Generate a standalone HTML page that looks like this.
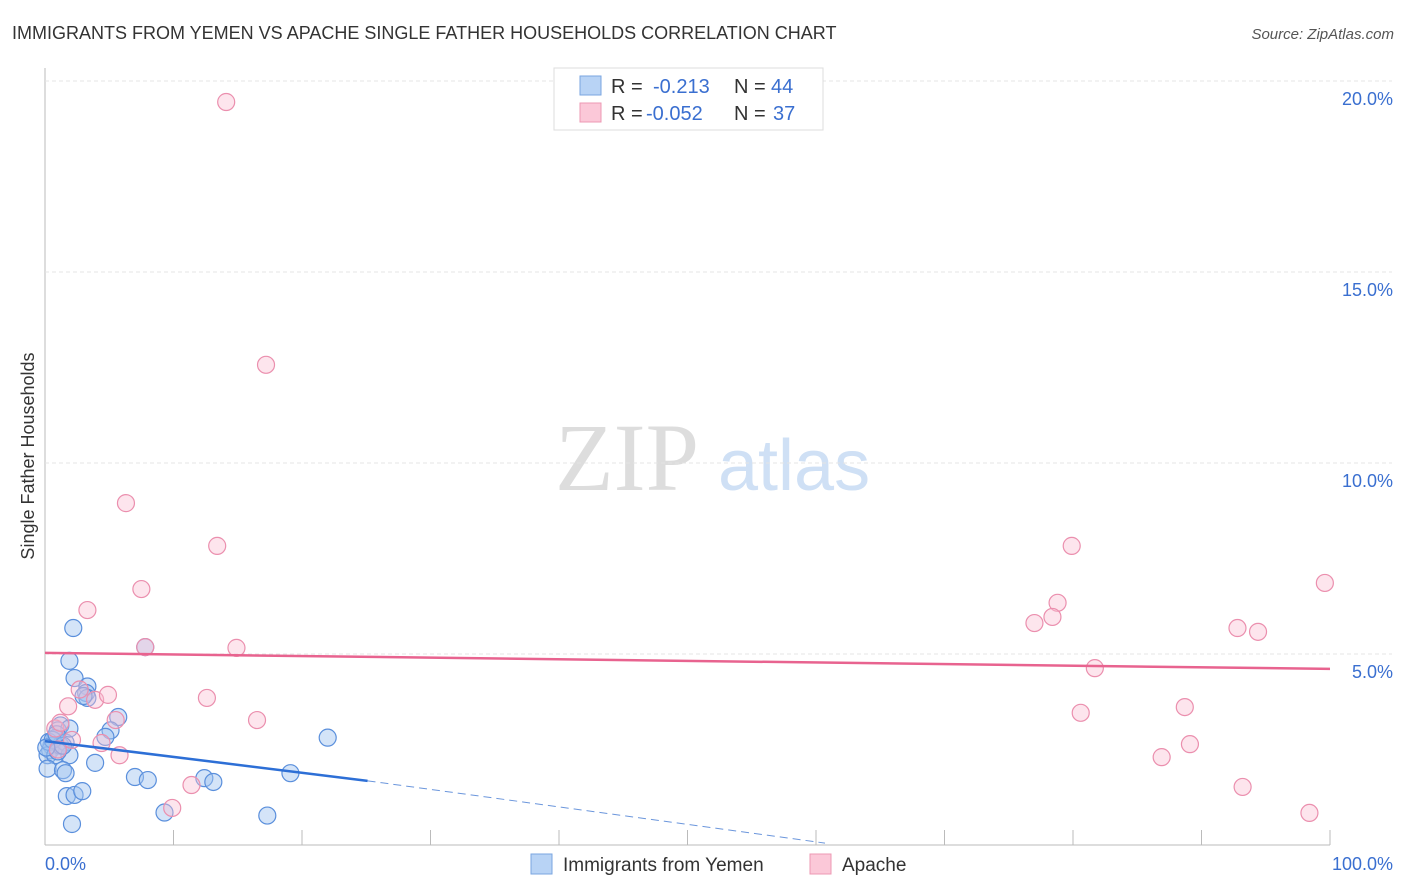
<!DOCTYPE html>
<html><head><meta charset="utf-8"><style>
body{margin:0;background:#fff;font-family:"Liberation Sans",sans-serif}
svg{display:block}
</style></head><body>
<svg id="chart" width="1406" height="892">
<text x="12" y="39" font-size="18" fill="#333">IMMIGRANTS FROM YEMEN VS APACHE SINGLE FATHER HOUSEHOLDS CORRELATION CHART</text>
<text x="1394" y="39" font-size="15" fill="#555" font-style="italic" text-anchor="end">Source: ZipAtlas.com</text>
<text x="555" y="490" font-size="96" fill="#ddd" font-family="Liberation Serif,serif">ZIP</text>
<text x="718" y="490" font-size="72" fill="#cfe0f5">atlas</text>
<text transform="translate(34,456) rotate(-90)" font-size="18" fill="#333" text-anchor="middle">Single Father Households</text>
<g id="grid"></g><g id="marks"></g>
<g>
<rect x="554" y="68" width="269" height="62" fill="#fff" stroke="#ddd"/>
<rect x="580" y="76" width="21" height="19" fill="#b8d3f5" stroke="#7aa6e0"/>
<rect x="580" y="103" width="21" height="19" fill="#fbc8d8" stroke="#ec98b3"/>
<text x="611" y="93" font-size="20" fill="#333">R = </text><text x="653" y="93" font-size="20" fill="#3a6fd0">-0.213</text>
<text x="734" y="93" font-size="20" fill="#333">N = </text><text x="771" y="93" font-size="20" fill="#3a6fd0">44</text>
<text x="611" y="120" font-size="20" fill="#333">R = </text><text x="646" y="120" font-size="20" fill="#3a6fd0">-0.052</text>
<text x="734" y="120" font-size="20" fill="#333">N = </text><text x="773" y="120" font-size="20" fill="#3a6fd0">37</text>
</g>
<g>
<rect x="531" y="854" width="21" height="20" fill="#b8d3f5" stroke="#7aa6e0"/>
<text x="563" y="871" font-size="19" fill="#333">Immigrants from Yemen</text>
<rect x="810" y="854" width="21" height="20" fill="#fbc8d8" stroke="#ec98b3"/>
<text x="842" y="871" font-size="19" fill="#333">Apache</text>
</g>
</svg>
<script>
const yTicks=[5,10,15,20];
const yTickLabels=["5.0%","10.0%","15.0%","20.0%"];
const xTicks=[0,10,20,30,40,50,60,70,80,90,100];
const blueX=[2.2,1.9,2.3,3.3,3.2,3.3,3.0,5.7,5.1,4.7,7.8,1.2,1.0,0.8,0.5,0.4,0.2,0.8,1.2,1.6,1.9,1.9,0.2,1.4,1.6,3.9,1.7,2.3,2.9,2.1,7.0,8.0,9.3,12.4,13.1,17.3,19.1,22.0,0.3,0.6,1.0,1.4,0.9,0.1];
const blueY=[5.68,4.82,4.37,4.15,3.98,3.85,3.9,3.35,3.0,2.83,5.18,3.13,3.0,2.8,2.6,2.48,2.35,2.35,2.6,2.68,3.05,2.35,2.0,1.96,1.88,2.15,1.28,1.31,1.41,0.55,1.78,1.7,0.85,1.75,1.65,0.77,1.88,2.81,2.7,2.75,2.45,2.6,2.9,2.55];
const pinkX=[14.1,17.2,6.3,13.4,7.5,3.3,7.8,14.9,2.7,3.9,4.9,12.6,1.8,5.5,16.5,0.8,1.2,2.1,4.4,5.8,11.4,9.9,79.9,78.8,77.0,78.4,99.6,92.8,94.4,81.7,80.6,88.7,89.1,86.9,93.2,98.4,1.0];
const pinkY=[19.45,12.57,8.95,7.83,6.7,6.15,5.18,5.16,4.07,3.8,3.93,3.85,3.63,3.27,3.27,3.05,3.2,2.75,2.67,2.35,1.57,0.97,7.83,6.34,5.81,5.97,6.86,5.68,5.58,4.63,3.46,3.61,2.64,2.30,1.52,0.84,2.5];
const blueTrend=[[0,2.72],[25.1,1.68]];
const blueDash=[[25.1,1.68],[60.7,0.05]];
const pinkTrend=[[0,5.03],[100,4.61]];
const X=v=>45+v*12.85, Y=v=>845-v*38.2;
const NS="http://www.w3.org/2000/svg";
const grid=document.getElementById('grid'),marks=document.getElementById('marks');
function mk(p,tag,a){const e=document.createElementNS(NS,tag);for(const k in a)e.setAttribute(k,a[k]);p.appendChild(e);return e;}
let ax=mk(grid,'line',{x1:45,y1:68,x2:45,y2:845,stroke:'#bbb'});


let bx=mk(grid,'line',{x1:45,y1:845,x2:1330,y2:845,stroke:'#bbb'});


yTicks.forEach((t,i)=>{
 let g=mk(grid,'line',{x1:45,y1:Y(t),x2:1392,y2:Y(t),stroke:'#e4e4e4','stroke-dasharray':'4,3'});
 
 
 let tx=mk(grid,'text',{x:1393,y:Y(t)+24,'font-size':18,fill:'#3a6fd0','text-anchor':'end'});
 tx.textContent=yTickLabels[i];
 
 
});
xTicks.forEach(t=>{
 let l=mk(grid,'line',{x1:X(t),y1:830,x2:X(t),y2:845,stroke:'#bbb'});
 
 
});
let xl0=mk(grid,'text',{x:45,y:870,'font-size':18,fill:'#3a6fd0'});xl0.textContent='0.0%';


let xl1=mk(grid,'text',{x:1393,y:870,'font-size':18,fill:'#3a6fd0','text-anchor':'end'});xl1.textContent='100.0%';


blueX.forEach((v,i)=>{
 let c=mk(marks,'circle',{cx:X(v),cy:Y(blueY[i]),r:8.5,fill:'rgba(160,196,240,0.45)',stroke:'#5a8fdc','stroke-width':1.2});
 
 
});
pinkX.forEach((v,i)=>{
 let c=mk(marks,'circle',{cx:X(v),cy:Y(pinkY[i]),r:8.5,fill:'rgba(250,190,210,0.4)',stroke:'#eb8fae','stroke-width':1.2});
 
 
});
let pt=mk(marks,'line',{x1:X(pinkTrend[0][0]),y1:Y(pinkTrend[0][1]),x2:X(pinkTrend[1][0]),y2:Y(pinkTrend[1][1]),stroke:'#e8638f','stroke-width':2.5});


let bt=mk(marks,'line',{x1:X(blueTrend[0][0]),y1:Y(blueTrend[0][1]),x2:X(blueTrend[1][0]),y2:Y(blueTrend[1][1]),stroke:'#2d6fd6','stroke-width':2.5});


let bd=mk(marks,'line',{x1:X(blueDash[0][0]),y1:Y(blueDash[0][1]),x2:X(blueDash[1][0]),y2:Y(blueDash[1][1]),stroke:'#6b96dc','stroke-width':1,'stroke-dasharray':'8,5'});


</script>
</body></html>
